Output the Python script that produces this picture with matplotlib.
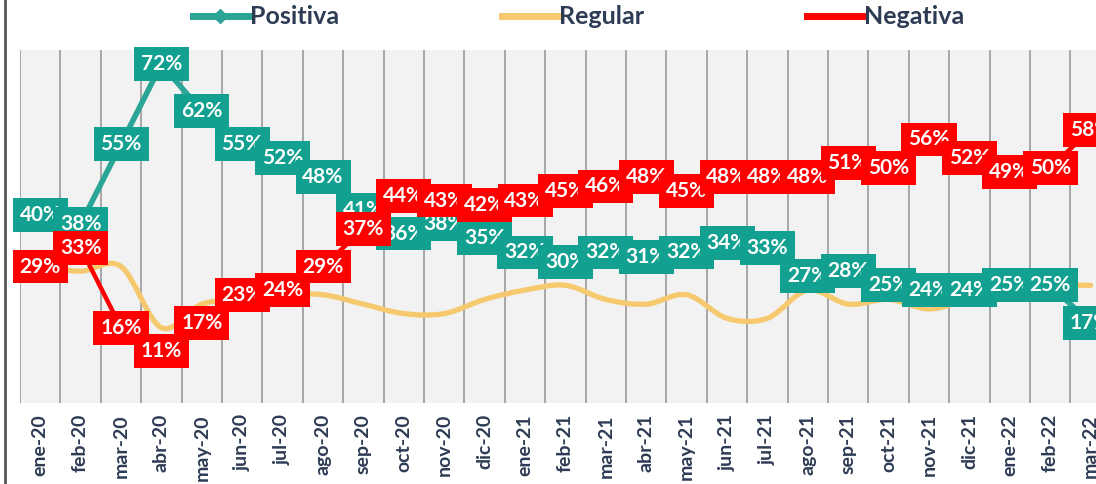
import numpy as np
import matplotlib
matplotlib.use("Agg")
import matplotlib.pyplot as plt
from matplotlib.path import Path
from matplotlib.patches import PathPatch
from matplotlib.lines import Line2D

plt.rcParams['font.family'] = ['Lato', 'DejaVu Sans']

meses = ['ene-20', 'feb-20', 'mar-20', 'abr-20', 'may-20', 'jun-20', 'jul-20',
         'ago-20', 'sep-20', 'oct-20', 'nov-20', 'dic-20', 'ene-21', 'feb-21',
         'mar-21', 'abr-21', 'may-21', 'jun-21', 'jul-21', 'ago-21', 'sep-21',
         'oct-21', 'nov-21', 'dic-21', 'ene-22', 'feb-22', 'mar-22']

positiva = [40, 38, 55, 72, 62, 55, 52, 48, 41, 36, 38, 35, 32, 30, 32, 31, 32,
            34, 33, 27, 28, 25, 24, 24, 25, 25, 17]
regular = [29, 28, 29, 16, 21, 22, 23, 23, 21, 19, 19, 22, 24, 25, 22, 21, 23,
           18, 18, 24, 21, 22, 20, 22, 24, 25, 25]
negativa = [29, 33, 16, 11, 17, 23, 24, 29, 37, 44, 43, 42, 43, 45, 46, 48, 45,
            48, 48, 48, 51, 50, 56, 52, 49, 50, 58]

verde = '#2AA596'
verde_caja = '#12A190'
amarillo = '#F7C96E'
rojo = '#FF0000'
texto = '#2E3B55'

W, H = 1096, 484
fig = plt.figure(figsize=(W / 100, H / 100), dpi=100)
# plot area runs past the right edge, like the cropped original
ax = fig.add_axes([20 / W, 81 / H, 27 * 40.4 / W, 353 / H])
ax.set_facecolor('#F2F2F2')

x = np.arange(len(meses))


def smooth_path(xs, ys):
    # bezier through every point, excel style smoothing
    pts = list(zip(xs, ys))
    verts = [pts[0]]
    codes = [Path.MOVETO]
    n = len(pts)
    for i in range(n - 1):
        p0 = pts[i - 1] if i > 0 else pts[i]
        p1 = pts[i]
        p2 = pts[i + 1]
        p3 = pts[i + 2] if i + 2 < n else pts[i + 1]
        c1 = (p1[0] + (p2[0] - p0[0]) / 6, p1[1] + (p2[1] - p0[1]) / 6)
        c2 = (p2[0] - (p3[0] - p1[0]) / 6, p2[1] - (p3[1] - p1[1]) / 6)
        verts += [c1, c2, p2]
        codes += [Path.CURVE4] * 3
    return Path(verts, codes)


ax.plot(x, positiva, color=verde, lw=4, marker='D', ms=6, zorder=3)
ax.add_patch(PathPatch(smooth_path(x, regular), fill=False, edgecolor=amarillo,
                       lw=3.8, capstyle='round', zorder=3))
ax.plot(x, negativa, color=rojo, lw=3.2, zorder=3)

for xi, v in zip(x, positiva):
    ax.text(xi, v, f'{v}%', ha='center', va='center', color='white',
            fontsize=15, fontweight='bold', zorder=5,
            bbox=dict(boxstyle='square,pad=0.33', fc=verde_caja, ec='none'))
for xi, v in zip(x, negativa):
    ax.text(xi, v, f'{v}%', ha='center', va='center', color='white',
            fontsize=15, fontweight='bold', zorder=6,
            bbox=dict(boxstyle='square,pad=0.33', fc=rojo, ec='none'))

ax.set_xlim(-0.5, len(meses) - 0.5)
ax.set_ylim(0, 75)
ax.set_yticks([])
ax.set_xticks(x)
ax.set_xticklabels(meses, rotation=90, fontsize=14, fontweight='bold', color=texto)
ax.tick_params(axis='x', length=0, pad=8)
for b in np.arange(-0.5, len(meses), 1):
    ax.axvline(b, color='#A6A6A6', lw=1.4, zorder=1)
for s in ax.spines.values():
    s.set_visible(False)

handles = [Line2D([], [], color=verde, lw=5, marker='D', ms=7),
           Line2D([], [], color=amarillo, lw=5),
           Line2D([], [], color=rojo, lw=5)]
leg = fig.legend(handles, ['Positiva', 'Regular', 'Negativa'], loc='center',
                 bbox_to_anchor=(0.528, 0.965), ncol=3, frameon=False,
                 handlelength=2.2, handletextpad=0.1, columnspacing=6.5,
                 prop={'weight': 'bold', 'size': 18})
for t in leg.get_texts():
    t.set_color(texto)

fig.add_artist(Line2D([5 / W, 5 / W], [0, 1], color='#555555', lw=2,
                      transform=fig.transFigure))

fig.savefig('out.png', dpi=100)
